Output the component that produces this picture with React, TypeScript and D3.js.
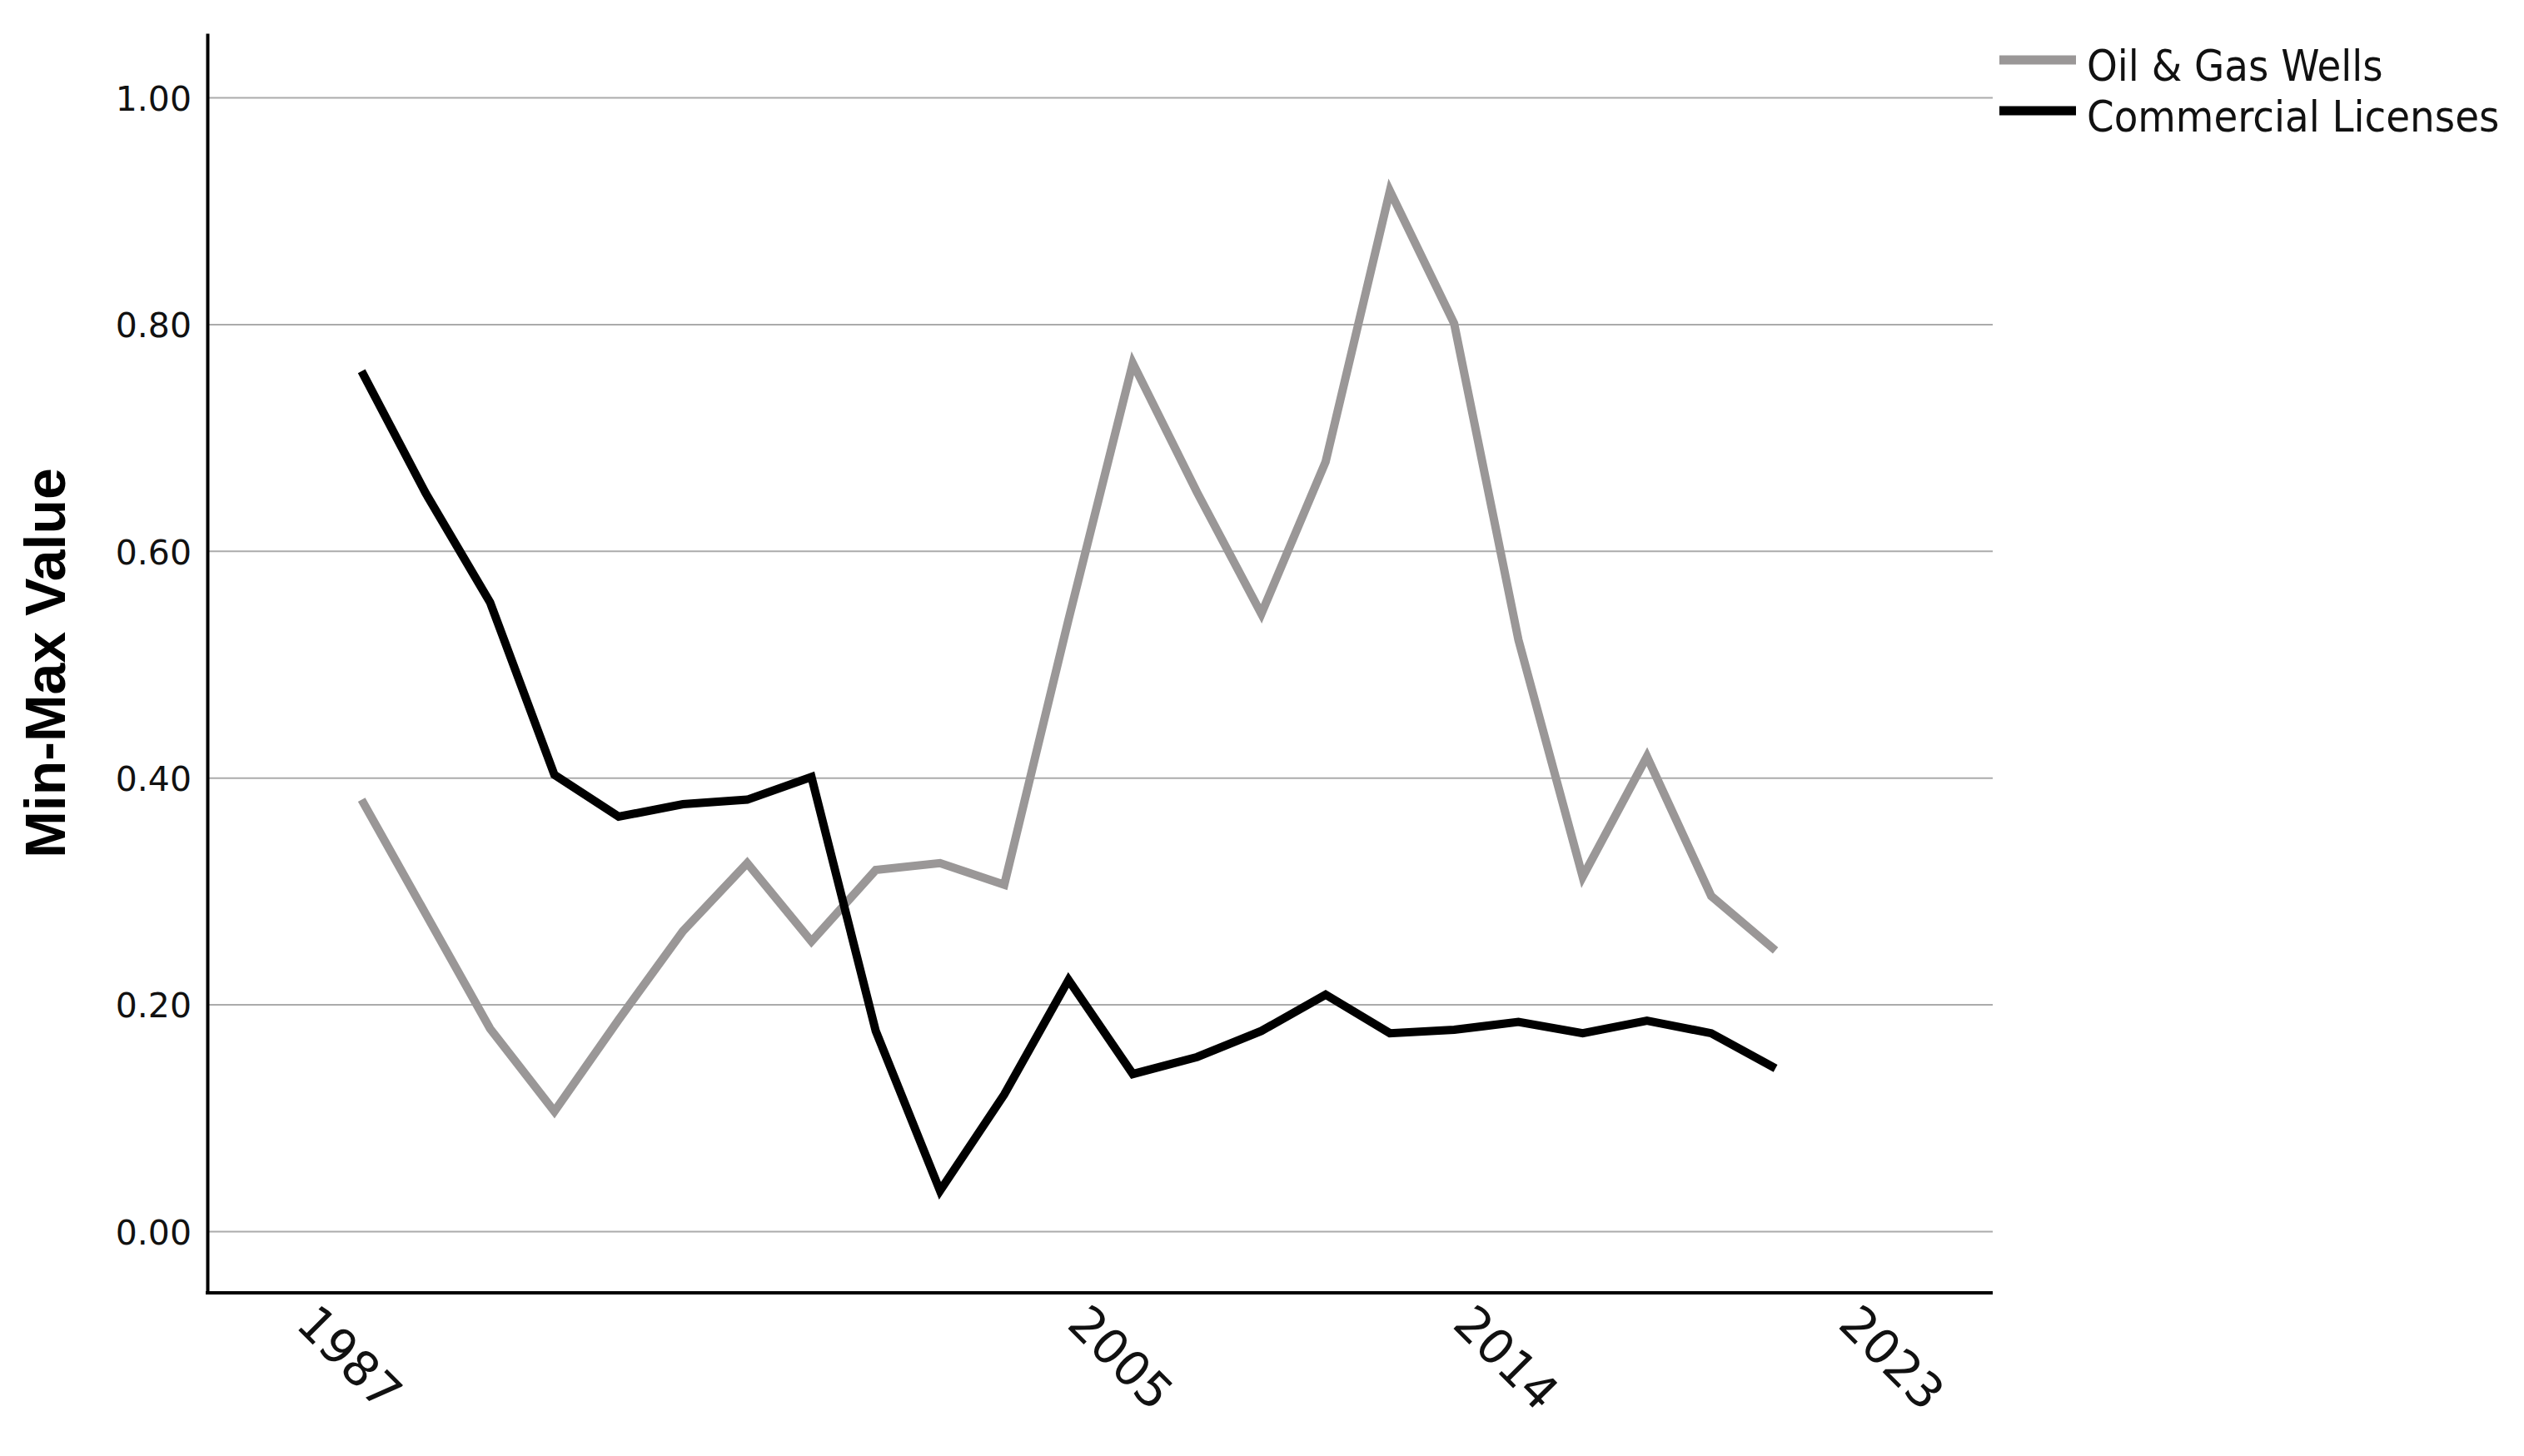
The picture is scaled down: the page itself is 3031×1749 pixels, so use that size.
import React, { useEffect, useRef } from "react";
import { axisBottom, axisLeft, format, line, scaleLinear, select } from "d3";

// one point every 1.5 years
const years = [
  1988, 1989.5, 1991, 1992.5, 1994, 1995.5, 1997, 1998.5, 2000, 2001.5, 2003,
  2004.5, 2006, 2007.5, 2009, 2010.5, 2012, 2013.5, 2015, 2016.5, 2018, 2019.5,
  2021,
];
const oilGasWells = [
  0.381, 0.28, 0.179, 0.106, 0.187, 0.265, 0.325, 0.256, 0.319, 0.325, 0.306,
  0.54, 0.766, 0.652, 0.545, 0.679, 0.918, 0.801, 0.522, 0.313, 0.419, 0.296,
  0.248,
];
const commercialLicenses = [
  0.759, 0.651, 0.555, 0.403, 0.366, 0.377, 0.381, 0.401, 0.177, 0.036, 0.121,
  0.222, 0.139, 0.154, 0.177, 0.209, 0.175, 0.178, 0.185, 0.175, 0.186, 0.175,
  0.144,
];
const yearTicks = [1987, 2005, 2014, 2023];
const valueTicks = [0, 0.2, 0.4, 0.6, 0.8, 1.0];
const seriesNames = ["Oil & Gas Wells", "Commercial Licenses"];
const seriesColors = ["#9a9797", "#000000"];

export default function App() {
  const chartRef = useRef<SVGSVGElement>(null);

  const width = 3031;
  const height = 1749;
  const margin = { top: 40, right: 638, bottom: 196, left: 249 };

  const xScale = scaleLinear()
    .domain([1984.4, 2026.07])
    .range([margin.left, width - margin.right]);

  const yScale = scaleLinear()
    .domain([-0.054, 1.057])
    .range([height - margin.bottom, margin.top]);

  useEffect(() => {
    document.body.style.margin = "0";
    document.body.style.overflow = "hidden";

    const svg = select(chartRef.current);
    svg.selectAll("*").remove();

    // gridlines
    svg
      .append("g")
      .selectAll("line")
      .data(valueTicks)
      .enter()
      .append("line")
      .attr("x1", margin.left)
      .attr("x2", width - margin.right)
      .attr("y1", (d) => yScale(d))
      .attr("y2", (d) => yScale(d))
      .attr("stroke", "#ababab")
      .attr("stroke-width", 2);

    // series
    const series = [oilGasWells, commercialLicenses];
    const lineGen = line<number>()
      .x((d, i) => xScale(years[i]))
      .y((d) => yScale(d));

    svg
      .append("g")
      .selectAll("path")
      .data(series)
      .enter()
      .append("path")
      .attr("d", (d) => lineGen(d))
      .attr("fill", "none")
      .attr("stroke", (d, i) => seriesColors[i])
      .attr("stroke-width", 10)
      .attr("stroke-linejoin", "miter");

    // y axis
    const yAxis = svg
      .append("g")
      .attr("transform", `translate(${margin.left},0)`)
      .call(
        axisLeft(yScale)
          .tickValues(valueTicks)
          .tickFormat(format(".2f"))
          .tickSize(0)
          .tickPadding(19)
      );
    yAxis
      .attr("font-family", "'DejaVu Sans', sans-serif")
      .attr("font-size", 41);
    yAxis.select(".domain").attr("stroke", "#000").attr("stroke-width", 4);
    yAxis.selectAll("text").attr("fill", "#111").attr("dy", "0.36em");

    // x axis
    const xAxis = svg
      .append("g")
      .attr("transform", `translate(0,${height - margin.bottom})`)
      .call(
        axisBottom(xScale)
          .tickValues(yearTicks)
          .tickFormat((d) => String(d))
          .tickSize(0)
          .tickSizeOuter(0)
      );
    xAxis
      .attr("font-family", "'DejaVu Sans', sans-serif")
      .attr("font-size", 58);
    xAxis
      .select(".domain")
      .attr("stroke", "#000")
      .attr("stroke-width", 4)
      .attr("d", `M${margin.left - 2},0H${width - margin.right}`);
    xAxis
      .selectAll("text")
      .attr("y", 0)
      .attr("dy", null)
      .attr("fill", "#111")
      .attr("text-anchor", "start")
      .attr("transform", "translate(-30,40) rotate(45)");

    // y axis title
    svg
      .append("text")
      .attr(
        "transform",
        `translate(54,${(margin.top + height - margin.bottom) / 2}) rotate(-90)`
      )
      .attr("text-anchor", "middle")
      .attr("dominant-baseline", "central")
      .attr("font-family", "'Liberation Sans', Arial, sans-serif")
      .attr("font-weight", "bold")
      .attr("font-size", 68)
      .text("Min-Max Value");

    // legend
    const legend = svg
      .append("g")
      .selectAll("g")
      .data(seriesNames)
      .enter()
      .append("g")
      .attr("transform", (d, i) => `translate(2401,${72 + i * 61})`);
    legend
      .append("line")
      .attr("x1", 0)
      .attr("x2", 92)
      .attr("stroke", (d, i) => seriesColors[i])
      .attr("stroke-width", 11);
    legend
      .append("text")
      .attr("x", 105)
      .attr("y", 25)
      .attr("font-family", "'DejaVu Sans Condensed', 'DejaVu Sans', sans-serif")
      .attr("font-stretch", "condensed")
      .attr("font-size", 52)
      .attr("fill", "#111")
      .text((d) => d);
  }, []);

  return (
    <svg
      width={width}
      height={height}
      style={{ display: "block", backgroundColor: "white" }}
      ref={chartRef}
    />
  );
}
